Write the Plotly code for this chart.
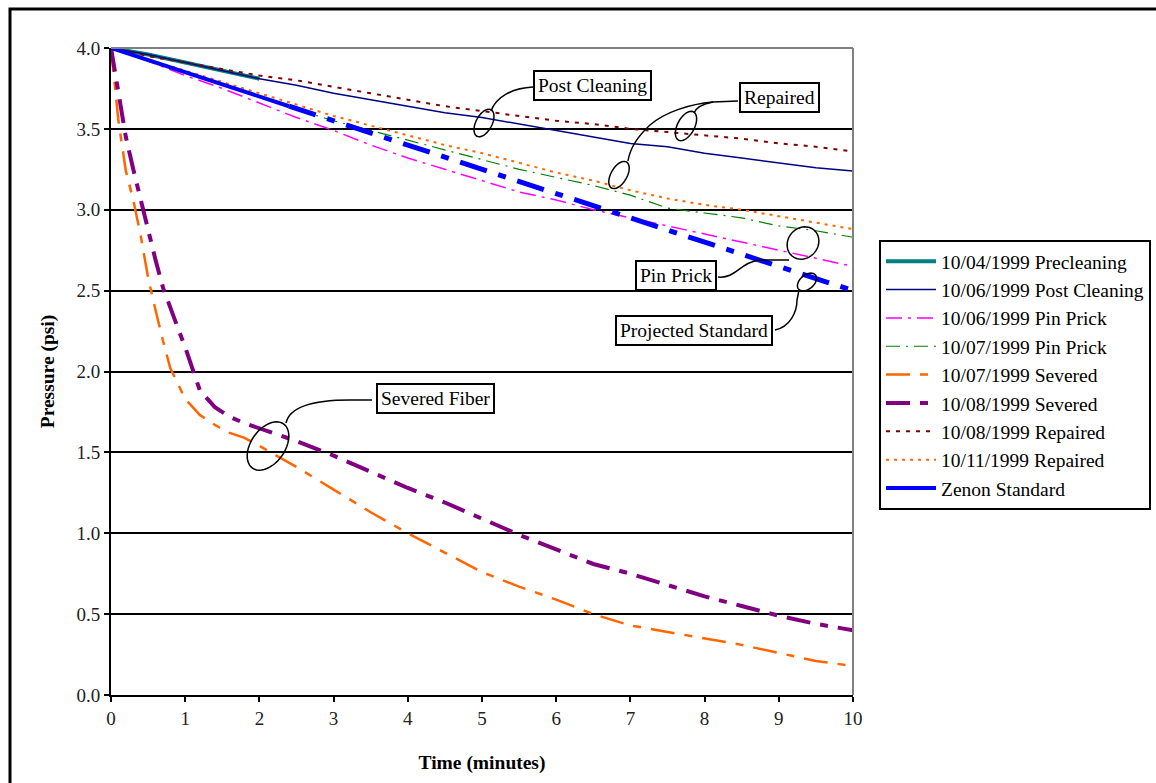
import math
import plotly.graph_objects as go

# ---------------- data ----------------
t_pre = [0, 0.5, 1.0, 1.5, 2.0]
precleaning = [4.0, 3.96, 3.91, 3.86, 3.81]

t_std = [0, 0.5, 1, 1.5, 2, 2.5, 3, 3.5, 4, 4.5, 5, 5.5, 6, 6.5, 7, 7.5, 8, 8.5, 9, 9.5, 10]
post_cleaning = [4.0, 3.96, 3.91, 3.86, 3.81, 3.77, 3.72, 3.68, 3.64, 3.60, 3.57, 3.53, 3.49, 3.45, 3.41, 3.39, 3.35, 3.32, 3.29, 3.26, 3.24]
pin_prick_1006 = [4.0, 3.92, 3.83, 3.75, 3.66, 3.57, 3.49, 3.40, 3.32, 3.25, 3.18, 3.11, 3.06, 3.00, 2.95, 2.90, 2.85, 2.80, 2.75, 2.70, 2.65]
pin_prick_1007 = [4.0, 3.92, 3.85, 3.78, 3.70, 3.62, 3.55, 3.49, 3.43, 3.37, 3.31, 3.25, 3.20, 3.15, 3.09, 3.01, 2.98, 2.95, 2.90, 2.87, 2.83]
repaired_1008 = [4.0, 3.95, 3.91, 3.87, 3.83, 3.80, 3.76, 3.72, 3.68, 3.64, 3.61, 3.58, 3.55, 3.53, 3.50, 3.48, 3.46, 3.44, 3.41, 3.39, 3.36]
repaired_1011 = [4.0, 3.93, 3.86, 3.79, 3.72, 3.65, 3.58, 3.52, 3.46, 3.40, 3.35, 3.29, 3.23, 3.18, 3.12, 3.07, 3.03, 3.00, 2.96, 2.92, 2.88]

t_sev = [0, 0.1, 0.2, 0.3, 0.4, 0.5, 0.6, 0.7, 0.8, 0.9, 1.0, 1.2, 1.4, 1.6, 1.8, 2.0,
         2.5, 3, 3.5, 4, 4.5, 5, 5.5, 6, 6.5, 7, 7.5, 8, 8.5, 9, 9.5, 10]
severed_1007 = [4.0, 3.55, 3.24, 3.06, 2.84, 2.58, 2.38, 2.19, 2.02, 1.92, 1.83, 1.73, 1.67, 1.62, 1.59, 1.54,
                1.41, 1.27, 1.13, 1.00, 0.88, 0.76, 0.67, 0.59, 0.50, 0.43, 0.39, 0.35, 0.31, 0.26, 0.21, 0.18]
severed_1008 = [4.0, 3.72, 3.45, 3.25, 3.06, 2.87, 2.69, 2.52, 2.39, 2.27, 2.15, 1.88, 1.78, 1.72, 1.68, 1.65,
                1.57, 1.48, 1.38, 1.28, 1.19, 1.09, 0.99, 0.90, 0.81, 0.75, 0.68, 0.61, 0.55, 0.49, 0.44, 0.40]

t_zenon = [0, 2.4]
zenon = [4.0, 3.64]
t_proj = [2.4, 10]
projected = [3.64, 2.5]

x_ticks = list(range(0, 11))
y_ticks = [0.0, 0.5, 1.0, 1.5, 2.0, 2.5, 3.0, 3.5, 4.0]
y_tick_text = ["0.0", "0.5", "1.0", "1.5", "2.0", "2.5", "3.0", "3.5", "4.0"]

FONT = "Liberation Serif"

fig = go.Figure()

def add(x, y, name, color, width, dash, show=True):
    fig.add_trace(go.Scatter(x=x, y=y, mode="lines", name=name, showlegend=show,
                             legendgroup=name,
                             line=dict(color=color, width=width, dash=dash)))

add(t_pre, precleaning, "10/04/1999 Precleaning", "#008080", 4, "solid")
add(t_std, post_cleaning, "10/06/1999 Post Cleaning", "#000080", 1.5, "solid")
add(t_std, pin_prick_1006, "10/06/1999 Pin Prick", "#FF00FF", 1.5, "16px,6px,3px,6px")
add(t_std, pin_prick_1007, "10/07/1999 Pin Prick", "#008000", 1.2, "14px,6px,2px,6px")
add(t_sev, severed_1007, "10/07/1999 Severed", "#FF6600", 2.5, "24px,10px,8px,10px")
add(t_sev, severed_1008, "10/08/1999 Severed", "#800080", 4, "24px,10px,8px,10px")
add(t_std, repaired_1008, "10/08/1999 Repaired", "#800000", 2, "4px,6px")
add(t_std, repaired_1011, "10/11/1999 Repaired", "#FF6600", 2, "3px,5px")
add(t_zenon, zenon, "Zenon Standard", "#0000FF", 4, "solid")
add(t_proj, projected, "Projected Standard", "#0000FF", 5, "28px,12px,8px,12px", show=False)

# ---------------- pixel helpers for callouts ----------------
L, R, T, B = 111, 853, 48, 695
W, H = R - L, B - T
FW, FH = 1156, 783

def px(x):
    return (x - L) / W

def py(y):
    return (B - y) / H

def P(x, y):
    return f"{px(x):.5f},{py(y):.5f}"

def ellipse(cx, cy, a, b, theta):
    th = math.radians(theta)
    pts = []
    for i in range(49):
        s = 2 * math.pi * i / 48
        x = cx + a * math.cos(s) * math.cos(th) - b * math.sin(s) * math.sin(th)
        y = cy - (a * math.cos(s) * math.sin(th) + b * math.sin(s) * math.cos(th))
        pts.append(P(x, y))
    return "M " + " L ".join(pts) + " Z"

shapes = []
def pshape(path, width=1.5):
    shapes.append(dict(type="path", xref="paper", yref="paper", path=path,
                       line=dict(color="black", width=width), layer="above"))

# ellipses
pshape(ellipse(484, 123, 15, 8, 62))
pshape(ellipse(686, 126, 16, 8.5, 62))
pshape(ellipse(619, 175, 15, 8, 60))
pshape(ellipse(803, 243, 17, 15, 50))
pshape(ellipse(807, 282, 11, 7, 40))
pshape(ellipse(268, 446, 27, 17, 55))

# connectors
pshape(f"M {P(491,111)} C {P(496,97)} {P(512,88)} {P(533,87)}")
pshape(f"M {P(738,101)} L {P(713,102)} C {P(690,104)} {P(665,112)} {P(650,125)} C {P(638,136)} {P(630,148)} {P(628,161)}")
pshape(f"M {P(713,102)} C {P(702,104)} {P(696,108)} {P(694,113)}")
pshape(f"M {P(718,277)} C {P(736,279)} {P(740,262)} {P(760,260)} L {P(789,260)}")
pshape(f"M {P(775,330)} C {P(790,327)} {P(797,312)} {P(797,300)} L {P(799,290)}")
pshape(f"M {P(286,423)} C {P(290,405)} {P(320,400)} {P(350,400)} L {P(372,400)}")

# plot-area gray top / right border
shapes.append(dict(type="line", xref="paper", yref="paper", x0=0, x1=1, y0=1, y1=1,
                   line=dict(color="#808080", width=2), layer="above"))
shapes.append(dict(type="line", xref="paper", yref="paper", x0=1, x1=1, y0=0, y1=1,
                   line=dict(color="#808080", width=2), layer="above"))
# outer frame
shapes.append(dict(type="rect", xref="paper", yref="paper", x0=px(10), x1=px(1170), y0=py(9), y1=py(800),
                   line=dict(color="black", width=3), layer="above"))

annotations = []
def box(text, cx, cy):
    annotations.append(dict(text=text, xref="paper", yref="paper", x=px(cx), y=py(cy),
                            xanchor="center", yanchor="middle", showarrow=False,
                            font=dict(family=FONT, size=19.5, color="black"),
                            bgcolor="white", bordercolor="black", borderwidth=2, borderpad=3))

box("Post Cleaning", 592.5, 85)
box("Repaired", 779, 97.5)
box("Pin Prick", 675.5, 275.5)
box("Projected Standard", 693.5, 330)
box("Severed Fiber", 435.5, 398.5)

fig.update_layout(
    width=FW, height=FH,
    margin=dict(l=L, r=FW - R, t=T, b=FH - B, pad=0, autoexpand=False),
    paper_bgcolor="white", plot_bgcolor="white",
    font=dict(family=FONT, size=19, color="black"),
    showlegend=True,
    legend=dict(xref="container", yref="container", x=879 / FW, y=1 - 240 / FH,
                xanchor="left", yanchor="top",
                bordercolor="black", borderwidth=2, bgcolor="white",
                font=dict(family=FONT, size=19.5, color="black"),
                tracegroupgap=0, itemwidth=50),
    shapes=shapes,
    annotations=annotations,
)

fig.update_xaxes(range=[0, 10], tickvals=x_ticks, ticks="outside", ticklen=5, tickwidth=2,
                 tickcolor="black", showline=True, linecolor="black", linewidth=2,
                 showgrid=False, zeroline=False,
                 tickfont=dict(family=FONT, size=19, color="#222222"),
                 title=dict(text="<b>Time (minutes)</b>", font=dict(family=FONT, size=19.5, color="black"), standoff=28))
fig.update_yaxes(range=[0, 4], tickvals=y_ticks, ticktext=y_tick_text, ticks="outside", ticklen=5, tickwidth=2,
                 tickcolor="black", showline=True, linecolor="black", linewidth=2,
                 showgrid=True, gridcolor="black", gridwidth=2, zeroline=False,
                 tickfont=dict(family=FONT, size=19, color="#222222"),
                 title=dict(text="<b>Pressure (psi)</b>", font=dict(family=FONT, size=19.5, color="black"), standoff=17))

fig.write_html("out.html", config={"displayModeBar": False},
               post_script="document.body.style.margin='0';")
